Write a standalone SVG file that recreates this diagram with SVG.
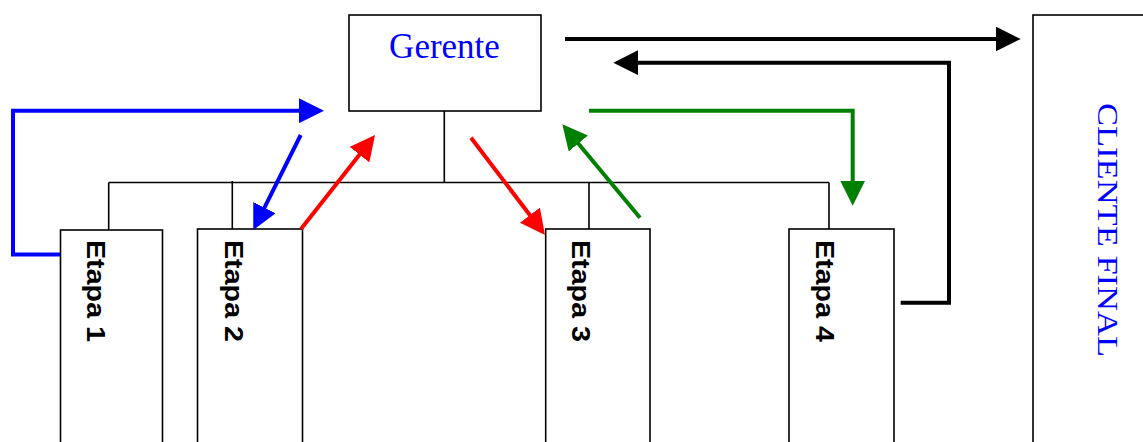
<svg xmlns="http://www.w3.org/2000/svg" width="1143" height="442" viewBox="0 0 1143 442">
  <style>
    .box { fill: #ffffff; stroke: #000000; stroke-width: 1.6; }
    .tree { fill: none; stroke: #000000; stroke-width: 1.6; }
    .serif { font-family: "Liberation Serif", "Times New Roman", serif; fill: #0000ff; }
    .stage { font-family: "Liberation Sans", Arial, sans-serif; font-weight: bold; font-size: 26px; fill: #000000; }
    .flow { fill: none; stroke-width: 4; stroke-linejoin: miter; }
    .blue { stroke: #0000ff; }
    .red { stroke: #ff0000; }
    .green { stroke: #008000; }
    .black { stroke: #000000; }
  </style>
  <defs>
    <marker id="headBlue" viewBox="0 0 25 25" refX="3" refY="12.5" markerWidth="25" markerHeight="25" markerUnits="userSpaceOnUse" orient="auto">
      <path d="M0,0 L25,12.5 L0,25 Z" fill="#0000ff"/>
    </marker>
    <marker id="headRed" viewBox="0 0 25 25" refX="3" refY="12.5" markerWidth="25" markerHeight="25" markerUnits="userSpaceOnUse" orient="auto">
      <path d="M0,0 L25,12.5 L0,25 Z" fill="#ff0000"/>
    </marker>
    <marker id="headGreen" viewBox="0 0 25 25" refX="3" refY="12.5" markerWidth="25" markerHeight="25" markerUnits="userSpaceOnUse" orient="auto">
      <path d="M0,0 L25,12.5 L0,25 Z" fill="#008000"/>
    </marker>
    <marker id="headBlack" viewBox="0 0 25 25" refX="3" refY="12.5" markerWidth="25" markerHeight="25" markerUnits="userSpaceOnUse" orient="auto">
      <path d="M0,0 L25,12.5 L0,25 Z" fill="#000000"/>
    </marker>
  </defs>

  <!-- organisation tree lines -->
  <g id="tree">
    <path class="tree" d="M444.3,111 V182.5 M108.7,182.5 H829 M108.7,182.5 V230 M232.3,181 V229 M589,182.5 V229 M829,182.5 V229"/>
  </g>

  <!-- manager -->
  <g id="gerente">
    <rect class="box" x="349" y="15" width="192" height="96"/>
    <text class="serif" x="444.5" y="58" font-size="35" text-anchor="middle">Gerente</text>
  </g>

  <!-- stages -->
  <g id="etapa1">
    <rect class="box" x="60.5" y="230" width="102" height="230"/>
    <text class="stage" transform="translate(87,240) rotate(90)" textLength="102" lengthAdjust="spacingAndGlyphs">Etapa 1</text>
  </g>
  <g id="etapa2">
    <rect class="box" x="197.5" y="229" width="105" height="230"/>
    <text class="stage" transform="translate(225,240) rotate(90)" textLength="102" lengthAdjust="spacingAndGlyphs">Etapa 2</text>
  </g>
  <g id="etapa3">
    <rect class="box" x="545.7" y="229" width="104.3" height="230"/>
    <text class="stage" transform="translate(572,240) rotate(90)" textLength="102" lengthAdjust="spacingAndGlyphs">Etapa 3</text>
  </g>
  <g id="etapa4">
    <rect class="box" x="789" y="229" width="105" height="230"/>
    <text class="stage" transform="translate(816,240) rotate(90)" textLength="102" lengthAdjust="spacingAndGlyphs">Etapa 4</text>
  </g>

  <!-- end customer -->
  <g id="cliente">
    <rect class="box" x="1033" y="15" width="130" height="450"/>
    <text class="serif" transform="translate(1098,103) rotate(90)" font-size="30" textLength="254" lengthAdjust="spacingAndGlyphs">CLIENTE FINAL</text>
  </g>

  <!-- information flows -->
  <g id="connectors">
    <path class="flow blue" d="M60,254.5 H13 V110.7 H302" marker-end="url(#headBlue)"/>
    <path class="flow blue" d="M300.7,135 L263.1,210.3" marker-end="url(#headBlue)"/>
    <path class="flow red" d="M301,229 L361.4,152.3" marker-end="url(#headRed)"/>
    <path class="flow red" d="M471,137.7 L531.7,217.5" marker-end="url(#headRed)"/>
    <path class="flow green" d="M640,217.7 L576.4,141.2" marker-end="url(#headGreen)"/>
    <path class="flow green" d="M589,110.7 H852.7 V183.7" marker-end="url(#headGreen)"/>
    <path class="flow black" d="M565,39 H998.7" marker-end="url(#headBlack)"/>
    <path class="flow black" d="M900.7,302.7 H949 V62.7 H635.3" marker-end="url(#headBlack)"/>
  </g>
</svg>
